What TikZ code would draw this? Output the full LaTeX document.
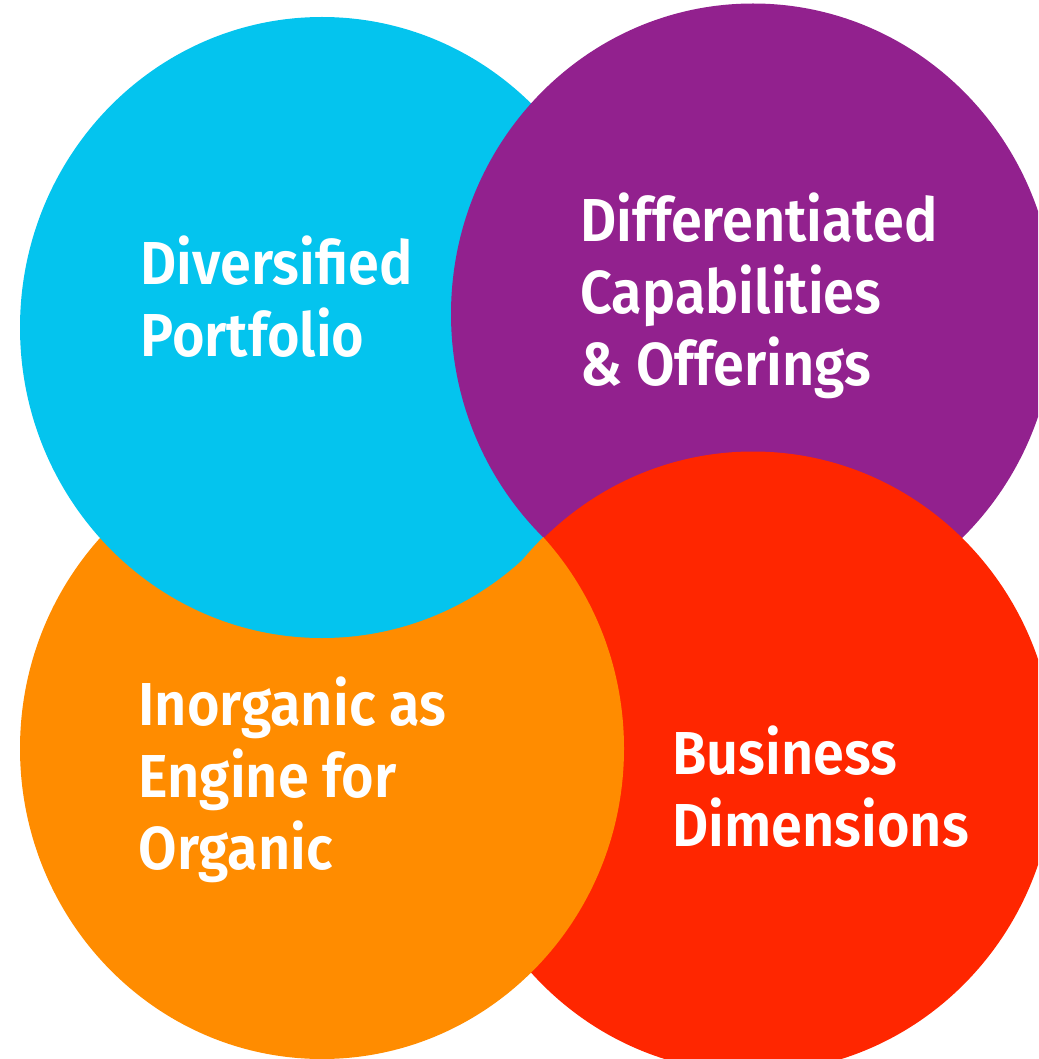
\documentclass[tikz,border=0pt]{standalone}
\usepackage{fontspec}
\setmainfont{Fira Sans}[BoldFont={* SemiBold}, FakeStretch=0.92]

\tikzset{every picture/.style={line width=0.75pt}}
\tikzset{lbl/.style={font=\bfseries\fontsize{45.5}{54}\selectfont, text=white, align=left, inner sep=0pt}}

\begin{document}
\begin{tikzpicture}[x=0.75pt,y=0.75pt,yscale=-1,xscale=1]
	%set diagram to 1038 x 1059
	\useasboundingbox (0,0) rectangle (1038,1059);
	\clip (0,0) rectangle (1038,1059);
	
	%Shape: Ellipse [orange]
	\fill [color={rgb, 255:red, 255; green, 140; blue, 0 }] (322,748.5) ellipse [x radius=302, y radius=310.5];
	%Shape: Ellipse [cyan]
	\fill [color={rgb, 255:red, 4; green, 196; blue, 238 }] (322,327.5) ellipse [x radius=302, y radius=310.5];
	%Shape: Ellipse [purple]
	\fill [color={rgb, 255:red, 146; green, 33; blue, 142 }] (753,314) ellipse [x radius=302, y radius=310.5];
	%Shape: Ellipse [red]
	\fill [color={rgb, 255:red, 255; green, 38; blue, 0 }] (753,762) ellipse [x radius=302, y radius=310.5];
	%orange over red (clip a bit larger, no seam)
	\begin{scope}
		\clip (753,762) ellipse [x radius=303, y radius=311.5];
		\fill [color={rgb, 255:red, 255; green, 140; blue, 0 }] (322,748.5) ellipse [x radius=302, y radius=310.5];
	\end{scope}
	
	% Text Node
	\draw (140,356.5) node [anchor=base west][lbl] (portfolio) {Diversified\\Portfolio};
	% Text Node
	\draw (580,385) node [anchor=base west][lbl] (offerings) {Differentiated\\Capabilities\\\& Offerings};
	% Text Node
	\draw (138,869) node [anchor=base west][lbl] (inorganic) {Inorganic as\\Engine for\\Organic};
	% Text Node
	\draw (672,846) node [anchor=base west][lbl] (business) {Business\\Dimensions};
	
\end{tikzpicture}
\end{document}
